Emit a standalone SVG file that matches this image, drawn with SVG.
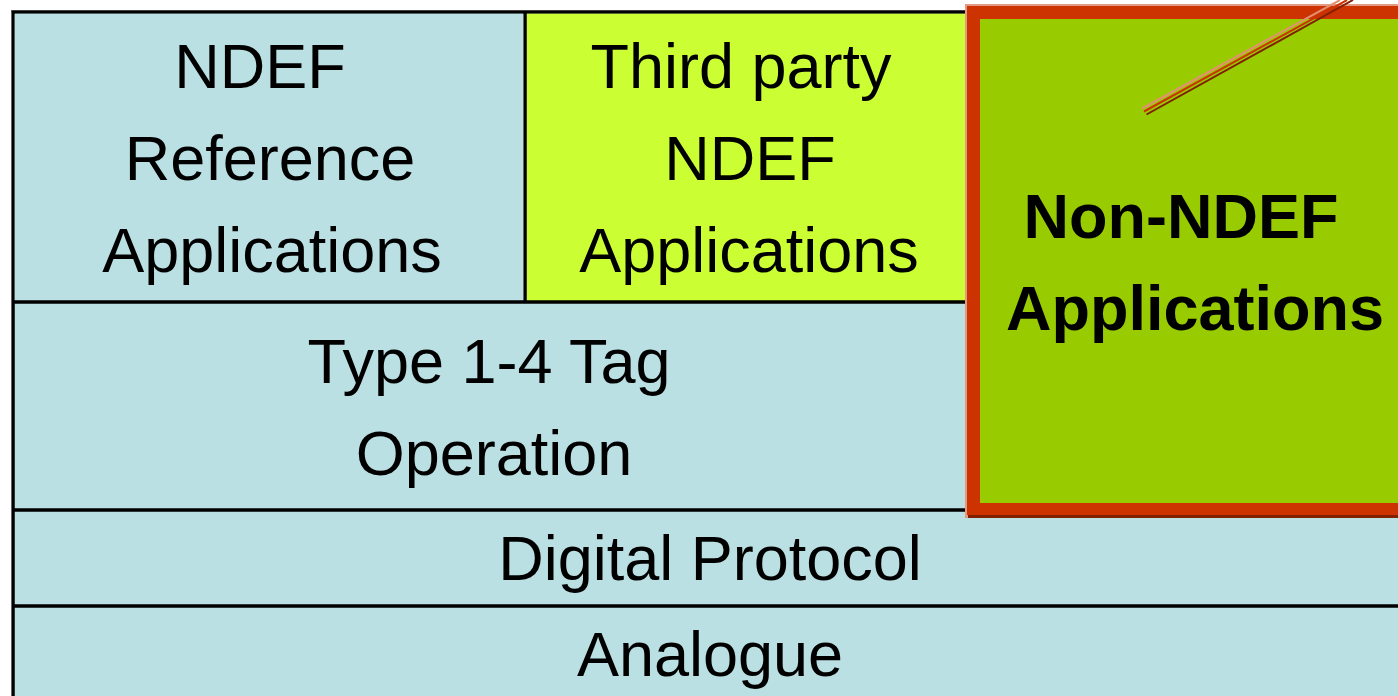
<svg xmlns="http://www.w3.org/2000/svg" width="1398" height="696" viewBox="0 0 1398 696">
  <style>
    .t { font-family: "Liberation Sans", Arial, sans-serif; font-size: 63px; fill: #000; text-anchor: middle; }
    .b { font-weight: bold; }
    .ln { stroke: #000; stroke-width: 3.5; fill: none; }
  </style>
  <rect x="0" y="0" width="1398" height="696" fill="#ffffff"/>
  <g id="frame">
    <rect x="13" y="12" width="1400" height="700" fill="#BBE0E3" stroke="#000" stroke-width="3.5"/>
    <line x1="11.5" y1="12" x2="11.5" y2="696" stroke="#666" stroke-width="1"/>
  </g>
  <g id="ndef-reference">
    <rect x="14.75" y="13.75" width="510.25" height="288" fill="#BBE0E3"/>
    <text class="t" x="260" y="88">NDEF</text>
    <text class="t" x="270" y="180">Reference</text>
    <text class="t" x="272" y="272">Applications</text>
  </g>
  <g id="third-party">
    <rect x="526.75" y="13.75" width="440" height="288" fill="#CCFF33"/>
    <text class="t" x="741" y="88">Third party</text>
    <text class="t" x="750" y="180">NDEF</text>
    <text class="t" x="749" y="272">Applications</text>
  </g>
  <g id="type-tag">
    <text class="t" x="489" y="383">Type 1-4 Tag</text>
    <text class="t" x="494" y="475">Operation</text>
  </g>
  <g id="digital-protocol">
    <text class="t" x="710" y="580">Digital Protocol</text>
  </g>
  <g id="analogue">
    <text class="t" x="710" y="676">Analogue</text>
  </g>
  <g id="connectors">
    <line class="ln" x1="13" y1="302" x2="967" y2="302"/>
    <line class="ln" x1="525" y1="12" x2="525" y2="302"/>
    <line x1="523.5" y1="14" x2="523.5" y2="300" stroke="#666" stroke-width="1"/>
    <line class="ln" x1="13" y1="510" x2="967" y2="510"/>
    <line class="ln" x1="13" y1="606" x2="1398" y2="606"/>
  </g>
  <g id="non-ndef">
    <rect x="965" y="4" width="440" height="514" fill="#E39A82"/>
    <rect x="968" y="7" width="440" height="511" fill="#802000"/>
    <rect x="967" y="6" width="440" height="509" fill="#CC3300"/>
    <rect x="980" y="19" width="430" height="484" fill="#99CC00"/>
    <line x1="1142" y1="108.5" x2="1340" y2="0" stroke="#E39070" stroke-width="2"/>
    <line x1="1144" y1="111.5" x2="1347" y2="0" stroke="#CC3300" stroke-width="2"/>
    <line x1="1146.5" y1="114.5" x2="1353" y2="0" stroke="#802000" stroke-width="2"/>
    <text class="t b" x="1181" y="238">Non-NDEF</text>
    <text class="t b" x="1195" y="330">Applications</text>
  </g>
</svg>
